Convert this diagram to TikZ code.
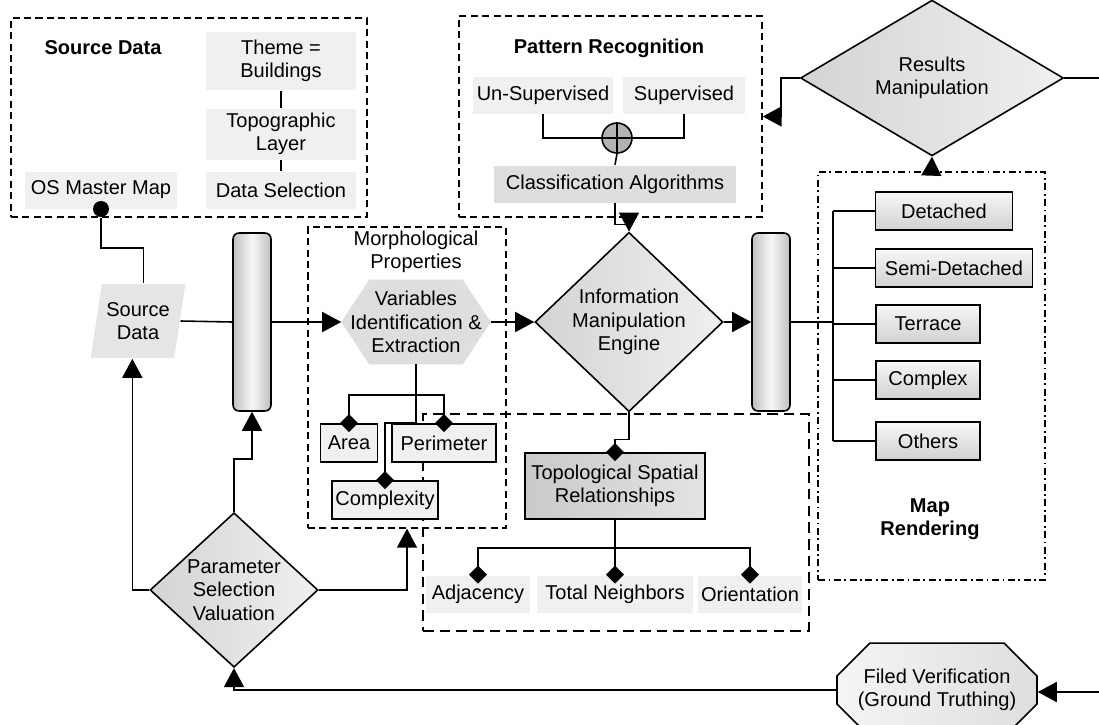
\documentclass[tikz,border=0pt]{standalone}
\usepackage{fontspec}
\setmainfont{Liberation Sans}
\usetikzlibrary{positioning,arrows.meta,shapes.geometric,shapes.misc,backgrounds}
\definecolor{paleg}{gray}{0.94}
\definecolor{midg}{gray}{0.87}

\begin{document}
\begin{tikzpicture}[x=0.02cm, y=-0.02cm,
  font=\fontsize{11.4pt}{13.4pt}\selectfont,
  line width=0.9pt,
  plain/.style={fill=paleg, inner sep=1pt, align=center, minimum height=0.74cm},
  sub/.style={draw, fill=paleg, inner sep=2pt, minimum height=0.76cm},
  bar/.style={draw, rounded corners=0.12cm, left color=gray!50, right color=gray!50, middle color=gray!6, minimum width=0.76cm, minimum height=3.56cm},
  choice/.style={diamond, draw, inner sep=0pt, align=center, left color=gray!34, right color=gray!12},
  cat/.style={draw, top color=gray!6, bottom color=gray!36, minimum height=0.75cm},
  grp/.style={draw, dash pattern=on 4pt off 2.5pt, line width=0.8pt},
  title/.style={font=\fontsize{11.4pt}{13.4pt}\selectfont\bfseries, align=center},
  arrow/.style={-{Triangle[length=0.38cm,width=0.4cm]}},
  link/.style={-{Diamond[length=0.36cm,width=0.36cm]}, shorten >=-0.18cm},
]
\useasboundingbox (0,0) rectangle (1099,724);

% group frames
\node[grp, minimum width=7.12cm, minimum height=3.98cm] (srcbox) at (189,117.5) {};
\node[grp, minimum width=6.06cm, minimum height=4.02cm] (patbox) at (610.5,116.5) {};
\node[grp, minimum width=3.96cm, minimum height=6.02cm] (morbox) at (407,377.5) {};
\node[grp, line width=1.4pt, dash pattern=on 6pt off 3.5pt, minimum width=7.72cm, minimum height=4.34cm] (topbox) at (616,522.5) {};
\node[draw, dash pattern=on 4pt off 2pt on 1pt off 2pt, line width=0.8pt, minimum width=4.54cm, minimum height=8.16cm] (mapbox) at (931.5,376) {};

% source data
\node[title] (srctitle) at (103,48) {Source Data};
\node[plain, minimum width=3.02cm, minimum height=1.18cm] (theme) at (281,61) {Theme =\\Buildings};
\node[plain, minimum width=3.02cm, minimum height=1.02cm] (layer) at (281,134) {Topographic\\Layer};
\node[plain, minimum width=3.02cm] (dsel) at (281,190) {Data Selection};
\node[plain, minimum width=3.04cm] (osmm) at (101,190) {OS Master Map};
\node[circle, fill, inner sep=0pt, minimum size=0.32cm] (dot) at (101,209) {};
\draw (theme) -- (layer);
\draw (layer) -- (dsel);

% pattern recognition
\node[title] (pattitle) at (609,48) {Pattern Recognition};
\node[plain, minimum width=2.82cm] (unsup) at (543,95) {Un-Supervised};
\node[plain, minimum width=2.46cm] (sup) at (684,95) {Supervised};
\node[circle, draw, fill=gray!60, minimum size=0.6cm, inner sep=0pt] (plus) at (617,138) {};
\draw (plus.north) -- (plus.south) (plus.west) -- (plus.east);
\node[plain, fill=midg, minimum width=4.84cm] (cls) at (615,184) {Classification Algorithms};
\draw (unsup.south) |- (plus.west);
\draw (sup.south) |- (plus.east);
\draw (plus.south) -- (cls.north);

% results
\node[choice, minimum width=5.26cm, minimum height=2.62cm] (res) at (932,78) {Results\\Manipulation};
\coordinate (resout) at (1099,78);
\draw (res.east) -- (resout);
\draw[arrow] (res.west) -- ++(-19,0) |- (patbox.east);

% morphological properties
\node[align=center] (morlabel) at (416,252) {Morphological\\Properties};
\node[minimum width=2.96cm, minimum height=1.66cm, inner sep=0pt, align=center] (vie) at (416,322) {Variables\\Identification \&\\Extraction};
\begin{scope}[on background layer]
\fill[midg] (vie.west) -- ([xshift=0.56cm]vie.north west) -- ([xshift=-0.56cm]vie.north east) -- (vie.east) -- ([xshift=-0.56cm]vie.south east) -- ([xshift=0.56cm]vie.south west) -- cycle;
\end{scope}
\node[sub, minimum width=1.14cm] (area) at (349,443) {Area};
\node[sub, minimum width=2.08cm] (peri) at (444,443) {Perimeter};
\node[sub, minimum width=2.08cm] (cplx) at (385,500) {Complexity};
\draw[link] (vie.south) -- ++(0,31) -| (area.north);
\draw[link] (vie.south) -- ++(0,31) -| (peri.north);
\draw[link] (vie.south) -- ++(0,59) -| (cplx.north);

% engine
\node[bar] (bar1) at (252,322) {};
\node[bar] (bar2) at (771,322) {};
\node[choice, minimum width=3.76cm, minimum height=3.04cm] (ime) at (629,322) {Information\\Manipulation\\Engine};
\draw[arrow] (bar1.east) -- (vie.west);
\draw[arrow] (vie.east) -- (ime.west);
\draw[arrow] (cls.south) -- ++(0,21) -| (ime.north);
\draw[arrow] (ime.east) -- (bar2.west);

% map rendering
\node[cat, minimum width=2.74cm] (det) at (944,211) {Detached};
\node[cat, minimum width=3.14cm] (semi) at (954,268) {Semi-Detached};
\node[cat, minimum width=2.08cm] (ter) at (928,324) {Terrace};
\node[cat, minimum width=2.08cm] (cpx) at (928,380) {Complex};
\node[cat, minimum width=2.08cm] (oth) at (928,441) {Others};
\node[title] (maptitle) at (930,519) {Map\\Rendering};
\coordinate (trunk) at (833,322);
\draw (bar2.east) -- (trunk);
\draw (det.west -| trunk) -- (oth.west -| trunk);
\foreach \c in {det,semi,ter,cpx,oth} \draw (\c.west) -- (\c.west -| trunk);
\draw[arrow] (mapbox.north) -- (res.south);

% topological relationships
\node[draw, left color=gray!42, right color=gray!22, minimum width=3.6cm, minimum height=1.32cm, align=center] (tsr) at (615,486) {Topological Spatial\\Relationships};
\draw[link] (ime.south) -- ++(0,27) -| (tsr.north);
\node[plain, minimum width=2.08cm] (adj) at (478,594) {Adjacency};
\node[plain, minimum width=3.12cm] (tnb) at (615,594) {Total Neighbors};
\node[plain, minimum width=2.08cm] (ori) at (750,594) {Orientation};
\draw[link] (tsr.south) -- ++(0,28) -| (adj.north);
\draw[link] (tsr.south) -- (tnb.north);
\draw[link] (tsr.south) -- ++(0,28) -| (ori.north);

% parameter loop
\node[choice, minimum width=3.36cm, minimum height=2.94cm] (psv) at (234,590) {Parameter\\Selection\\Valuation};
\node[trapezium, trapezium left angle=76, trapezium right angle=104, trapezium stretches=true, fill=gray!20, minimum width=1.9cm, minimum height=1.48cm, inner sep=1pt, align=center] (src) at (138,321) {Source\\Data};
\draw (dot.south) -- ++(0,30) -| (src.top side);
\draw (src.east) -- (bar1.west);
\draw[arrow] (psv.west) -| (src.bottom side);
\draw[arrow] (psv.north) -- ++(0,-53) -| (bar1.south);
\draw[arrow] (psv.east) -| (morbox.south);

% field verification
\node[chamfered rectangle, chamfered rectangle xsep=0.26cm, chamfered rectangle ysep=0.4cm, draw, left color=gray!8, right color=gray!26, minimum width=4cm, minimum height=1.32cm, align=center] (fv) at (937,690) {Filed Verification\\(Ground Truthing)};
\coordinate (fvin) at (1099,692);
\draw[arrow] (fvin) -- (fv.east |- fvin);
\draw[arrow] (fv.west) -| (psv.south);
\end{tikzpicture}
\end{document}
